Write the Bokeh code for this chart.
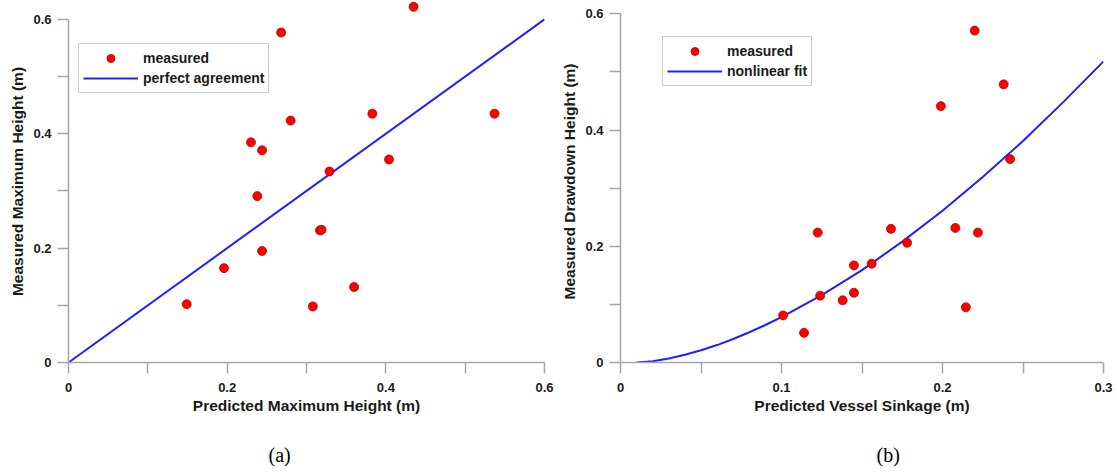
from bokeh.plotting import figure
from bokeh.layouts import row
from bokeh.models import Range1d, FixedTicker, NumeralTickFormatter, Legend, LegendItem, Title
from bokeh.embed import file_html
from bokeh.resources import INLINE

# ---- data: panel (a) ----
a_pred = [0.149, 0.196, 0.230, 0.238, 0.244, 0.244, 0.268, 0.280, 0.308, 0.317, 0.319,
          0.329, 0.360, 0.383, 0.404, 0.435, 0.537]
a_meas = [0.102, 0.165, 0.385, 0.291, 0.371, 0.195, 0.577, 0.423, 0.098, 0.231, 0.232,
          0.334, 0.132, 0.435, 0.355, 0.622, 0.435]
agree_x = [0.0, 0.6]
agree_y = [0.0, 0.6]

# ---- data: panel (b) ----
b_pred = [0.101, 0.114, 0.1225, 0.124, 0.138, 0.145, 0.145, 0.156, 0.168, 0.178, 0.199,
          0.208, 0.2145, 0.220, 0.222, 0.238, 0.242]
b_meas = [0.081, 0.051, 0.2235, 0.115, 0.107, 0.120, 0.167, 0.170, 0.230, 0.206, 0.441,
          0.2315, 0.095, 0.571, 0.2235, 0.4785, 0.350]
fit_x = [0.01, 0.02, 0.03, 0.04, 0.05, 0.06, 0.07, 0.08, 0.09, 0.1, 0.125, 0.15, 0.175,
         0.2, 0.225, 0.25, 0.275, 0.3]
fit_y = [0.0, 0.0022, 0.0068, 0.0132, 0.021, 0.030, 0.0405, 0.052, 0.0645, 0.078, 0.116,
         0.159, 0.208, 0.261, 0.319, 0.381, 0.448, 0.518]

FONT = "Liberation Sans"
AXIS_COL = "#a6a6a6"
RED = "#ff0000"
BLUE = "#1f1fff"


def style_axis(ax, major, minor, bound_max):
    ax.ticker = FixedTicker(ticks=major, minor_ticks=minor)
    ax.formatter = NumeralTickFormatter(format="0.[0]")
    ax.bounds = (0, bound_max)
    ax.axis_line_color = AXIS_COL
    ax.axis_line_width = 1.5
    ax.major_tick_line_color = AXIS_COL
    ax.minor_tick_line_color = AXIS_COL
    ax.major_tick_line_width = 1.5
    ax.minor_tick_line_width = 1.5
    ax.major_tick_out = 11
    ax.major_tick_in = 0
    ax.minor_tick_out = 11
    ax.minor_tick_in = 0
    ax.major_label_text_font = FONT
    ax.major_label_text_font_style = "bold"
    ax.major_label_text_font_size = "13px"
    ax.major_label_text_color = "#1a1a1a"
    ax.axis_label_text_font = FONT
    ax.axis_label_text_font_style = "bold"
    ax.axis_label_text_font_size = "15.5px"
    ax.axis_label_text_color = "#1a1a1a"


def make_panel(fw, fh, bl, br, xmax, ytop, xmajor, xminor, xlabel, ylabel):
    p = figure(frame_width=fw, frame_height=fh, min_border_left=bl, min_border_right=br,
               min_border_top=0, min_border_bottom=476 - fh,
               x_range=Range1d(0, xmax), y_range=Range1d(0, ytop),
               output_backend="svg", toolbar_location=None)
    p.grid.visible = False
    p.outline_line_color = None
    p.background_fill_color = "white"
    p.border_fill_color = "white"
    style_axis(p.xaxis[0], xmajor, xminor, xmax)
    style_axis(p.yaxis[0], [0, 0.2, 0.4, 0.6], [0.1, 0.3, 0.5], 0.6)
    p.xaxis[0].axis_label = xlabel
    p.yaxis[0].axis_label = ylabel
    p.xaxis[0].major_label_standoff = 9
    p.xaxis[0].axis_label_standoff = 2
    p.yaxis[0].major_label_standoff = 6
    p.yaxis[0].axis_label_standoff = 4
    return p


def add_legend(p, items, x, y):
    lg = Legend(items=items, location=(x, y), padding=4, spacing=0, margin=0,
                glyph_width=55, glyph_height=20, label_height=20, label_standoff=5,
                label_text_font=FONT, label_text_font_style="bold",
                label_text_font_size="14px", label_text_color="#1a1a1a",
                border_line_color="#9a9a9a", border_line_width=1.5,
                background_fill_color="white", background_fill_alpha=1.0)
    p.add_layout(lg, "center")


def add_caption(p, text, offset):
    p.add_layout(Title(text=text, align="left", offset=offset, standoff=50,
                       text_font="Liberation Serif", text_font_size="20px",
                       text_font_style="normal", text_color="black"), "below")


# ---- panel (a) ----
pa = make_panel(476, 362, 68, 14, 0.6, 0.633, [0, 0.2, 0.4, 0.6], [0.1, 0.3, 0.5],
                "Predicted Maximum Height (m)", "Measured Maximum Height (m)")
la = pa.line(agree_x, agree_y, line_color=BLUE, line_width=2)
sa = pa.scatter(a_pred, a_meas, marker="circle", size=9, fill_color=RED,
                line_color="#b00000", line_width=0.8)
add_legend(pa, [LegendItem(label="measured", renderers=[sa]),
                LegendItem(label="perfect agreement", renderers=[la])], 10, 269)
add_caption(pa, "(a)", 200)

# ---- panel (b) ----
pb = make_panel(483, 362, 61, 15, 0.3, 0.6228, [0, 0.1, 0.2, 0.3], [0.05, 0.15, 0.25],
                "Predicted Vessel Sinkage (m)", "Measured Drawdown Height (m)")
lb = pb.line(fit_x, fit_y, line_color=BLUE, line_width=2)
sb = pb.scatter(b_pred, b_meas, marker="circle", size=9, fill_color=RED,
                line_color="#b00000", line_width=0.8)
add_legend(pb, [LegendItem(label="measured", renderers=[sb]),
                LegendItem(label="nonlinear fit", renderers=[lb])], 42, 276)
add_caption(pb, "(b)", 256)

layout = row(pa, pb, spacing=0)
open("out.html", "w").write(file_html(layout, INLINE))
